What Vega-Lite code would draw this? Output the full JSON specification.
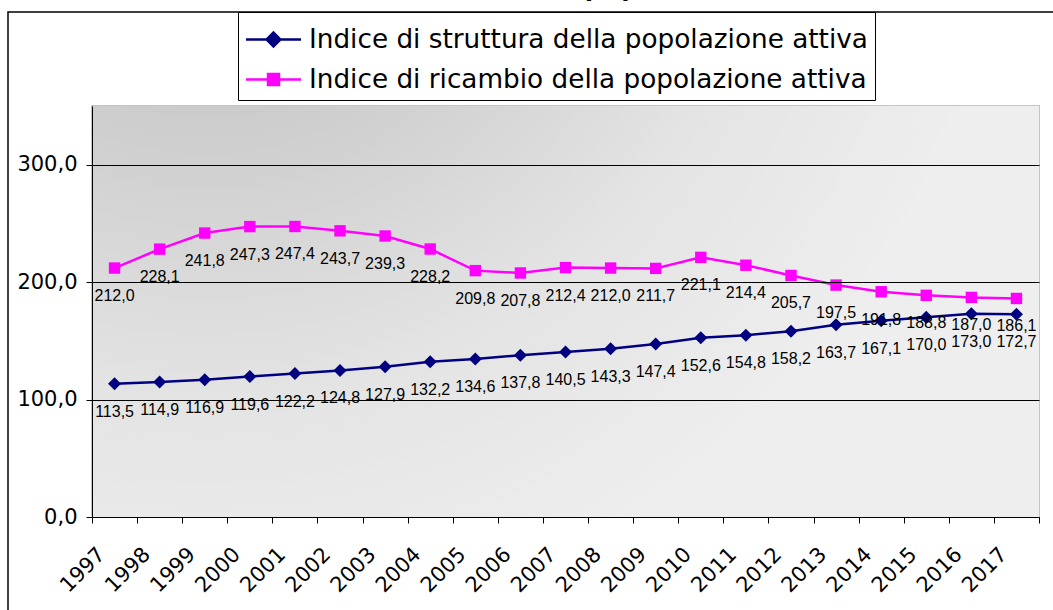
{
  "$schema": "https://vega.github.io/schema/vega-lite/v6.json",
  "width": 947,
  "height": 411,
  "autosize": {"type": "none"},
  "padding": {"left": 92, "top": 106, "right": 14, "bottom": 93},
  "background": "white",
  "title": {
    "text": "Indici di struttura della popolazione attiva",
    "font": "Liberation Sans",
    "fontSize": 30,
    "fontWeight": "bold",
    "color": "black",
    "anchor": "middle",
    "frame": "group",
    "dx": -15,
    "dy": 14,
    "offset": 0,
    "baseline": "alphabetic"
  },
  "config": {
    "locale": {"number": {"decimal": ",", "thousands": ".", "grouping": [3], "currency": ["€", ""]}},
    "view": {"stroke": "#c4c4c4", "strokeWidth": 2}
  },
  "datasets": {
    "serie": [
      {"anno": "1997", "serie": "Indice di struttura della popolazione attiva", "valore": 113.5},
      {"anno": "1998", "serie": "Indice di struttura della popolazione attiva", "valore": 114.9},
      {"anno": "1999", "serie": "Indice di struttura della popolazione attiva", "valore": 116.9},
      {"anno": "2000", "serie": "Indice di struttura della popolazione attiva", "valore": 119.6},
      {"anno": "2001", "serie": "Indice di struttura della popolazione attiva", "valore": 122.2},
      {"anno": "2002", "serie": "Indice di struttura della popolazione attiva", "valore": 124.8},
      {"anno": "2003", "serie": "Indice di struttura della popolazione attiva", "valore": 127.9},
      {"anno": "2004", "serie": "Indice di struttura della popolazione attiva", "valore": 132.2},
      {"anno": "2005", "serie": "Indice di struttura della popolazione attiva", "valore": 134.6},
      {"anno": "2006", "serie": "Indice di struttura della popolazione attiva", "valore": 137.8},
      {"anno": "2007", "serie": "Indice di struttura della popolazione attiva", "valore": 140.5},
      {"anno": "2008", "serie": "Indice di struttura della popolazione attiva", "valore": 143.3},
      {"anno": "2009", "serie": "Indice di struttura della popolazione attiva", "valore": 147.4},
      {"anno": "2010", "serie": "Indice di struttura della popolazione attiva", "valore": 152.6},
      {"anno": "2011", "serie": "Indice di struttura della popolazione attiva", "valore": 154.8},
      {"anno": "2012", "serie": "Indice di struttura della popolazione attiva", "valore": 158.2},
      {"anno": "2013", "serie": "Indice di struttura della popolazione attiva", "valore": 163.7},
      {"anno": "2014", "serie": "Indice di struttura della popolazione attiva", "valore": 167.1},
      {"anno": "2015", "serie": "Indice di struttura della popolazione attiva", "valore": 170.0},
      {"anno": "2016", "serie": "Indice di struttura della popolazione attiva", "valore": 173.0},
      {"anno": "2017", "serie": "Indice di struttura della popolazione attiva", "valore": 172.7},
      {"anno": "1997", "serie": "Indice di ricambio della popolazione attiva", "valore": 212.0},
      {"anno": "1998", "serie": "Indice di ricambio della popolazione attiva", "valore": 228.1},
      {"anno": "1999", "serie": "Indice di ricambio della popolazione attiva", "valore": 241.8},
      {"anno": "2000", "serie": "Indice di ricambio della popolazione attiva", "valore": 247.3},
      {"anno": "2001", "serie": "Indice di ricambio della popolazione attiva", "valore": 247.4},
      {"anno": "2002", "serie": "Indice di ricambio della popolazione attiva", "valore": 243.7},
      {"anno": "2003", "serie": "Indice di ricambio della popolazione attiva", "valore": 239.3},
      {"anno": "2004", "serie": "Indice di ricambio della popolazione attiva", "valore": 228.2},
      {"anno": "2005", "serie": "Indice di ricambio della popolazione attiva", "valore": 209.8},
      {"anno": "2006", "serie": "Indice di ricambio della popolazione attiva", "valore": 207.8},
      {"anno": "2007", "serie": "Indice di ricambio della popolazione attiva", "valore": 212.4},
      {"anno": "2008", "serie": "Indice di ricambio della popolazione attiva", "valore": 212.0},
      {"anno": "2009", "serie": "Indice di ricambio della popolazione attiva", "valore": 211.7},
      {"anno": "2010", "serie": "Indice di ricambio della popolazione attiva", "valore": 221.1},
      {"anno": "2011", "serie": "Indice di ricambio della popolazione attiva", "valore": 214.4},
      {"anno": "2012", "serie": "Indice di ricambio della popolazione attiva", "valore": 205.7},
      {"anno": "2013", "serie": "Indice di ricambio della popolazione attiva", "valore": 197.5},
      {"anno": "2014", "serie": "Indice di ricambio della popolazione attiva", "valore": 191.8},
      {"anno": "2015", "serie": "Indice di ricambio della popolazione attiva", "valore": 188.8},
      {"anno": "2016", "serie": "Indice di ricambio della popolazione attiva", "valore": 187.0},
      {"anno": "2017", "serie": "Indice di ricambio della popolazione attiva", "valore": 186.1}
    ]
  },
  "layer": [
    {
      "data": {"values": [{}]},
      "layer": [
        {
          "mark": {
            "type": "rect",
            "color": {
              "gradient": "radial",
              "x1": 0.12, "y1": 0, "r1": 0,
              "x2": 0.12, "y2": 0, "r2": 0.85,
              "stops": [
                {"offset": 0, "color": "#bebebe"},
                {"offset": 0.25, "color": "#c6c6c6"},
                {"offset": 0.7, "color": "#e4e4e4"},
                {"offset": 1, "color": "#eeeeee"}
              ]
            }
          },
          "encoding": {
            "x": {"datum": 0, "type": "quantitative", "scale": {"domain": [0, 1]}, "axis": null},
            "x2": {"datum": 1},
            "y": {
              "datum": 0,
              "type": "quantitative",
              "scale": {"domain": [0, 350], "nice": false, "zero": true},
              "axis": {
                "values": [0, 100, 200, 300],
                "format": ".1f",
                "title": null,
                "zindex": 1,
                "labelFont": "DejaVu Sans",
                "labelFontSize": 21,
                "labelColor": "black",
                "labelPadding": 9,
                "tickSize": 6,
                "tickColor": "black",
                "domainColor": "black",
                "domainWidth": 1,
                "grid": true,
                "gridColor": "black",
                "gridWidth": 1,
                "gridOpacity": 1
              }
            },
            "y2": {"datum": 350}
          }
        },
        {
          "mark": {"type": "rect", "fill": null, "stroke": "black", "strokeWidth": 1.5, "clip": false},
          "encoding": {
            "x": {"datum": -0.0887, "type": "quantitative"},
            "x2": {"datum": 1.06},
            "y": {"datum": 430, "type": "quantitative"},
            "y2": {"datum": -100}
          }
        }
      ]
    },
    {
      "data": {"name": "serie"},
      "encoding": {
        "x": {
          "field": "anno",
          "type": "ordinal",
          "scale": {"type": "band", "paddingInner": 0, "paddingOuter": 0},
          "axis": {
            "orient": "bottom",
            "title": null,
            "zindex": 1,
            "labelAngle": -45,
            "labelAlign": "right",
            "labelBaseline": "middle",
            "labelPadding": 28,
            "labelOffset": -13,
            "labelFont": "DejaVu Sans",
            "labelFontSize": 21,
            "labelColor": "black",
            "tickBand": "extent",
            "tickSize": 6,
            "tickColor": "black",
            "domainColor": "black",
            "grid": false
          }
        },
        "y": {"field": "valore", "type": "quantitative"}
      },
      "layer": [
        {
          "mark": {"type": "line", "strokeWidth": 2.5},
          "encoding": {
            "color": {
              "field": "serie",
              "type": "nominal",
              "scale": {
                "domain": ["Indice di struttura della popolazione attiva", "Indice di ricambio della popolazione attiva"],
                "range": ["#000080", "#ff00ff"]
              },
              "legend": {
                "title": null,
                "orient": "none",
                "legendX": 146,
                "legendY": -94,
                "padding": 7,
                "fillColor": "white",
                "strokeColor": "black",
                "labelFont": "DejaVu Sans",
                "labelFontSize": 26.3,
                "labelColor": "black",
                "labelLimit": 0,
                "labelOffset": 15,
                "symbolOffset": 8,
                "symbolSize": 1444,
                "symbolStrokeWidth": 2.5,
                "rowPadding": 6,
                "encode": {
                  "symbols": {
                    "update": {
                      "shape": {"signal": "datum.value === 'Indice di struttura della popolazione attiva' ? 'M-1.447,0H1.447M0,-0.362L0.362,0L0,0.362L-0.362,0Z' : 'M-1.447,0H1.447M-0.29,-0.29H0.29V0.29H-0.29Z'"},
                      "fill": {"signal": "datum.value === 'Indice di struttura della popolazione attiva' ? '#000080' : '#ff00ff'"},
                      "fillOpacity": {"value": 1}
                    }
                  }
                }
              }
            }
          }
        },
        {
          "transform": [{"filter": "datum.serie === 'Indice di struttura della popolazione attiva'"}],
          "mark": {"type": "point", "shape": "diamond", "filled": true, "opacity": 1, "size": 170, "color": "#000080"}
        },
        {
          "transform": [{"filter": "datum.serie === 'Indice di ricambio della popolazione attiva'"}],
          "mark": {"type": "point", "shape": "square", "filled": true, "opacity": 1, "size": 130, "color": "#ff00ff"}
        },
        {
          "mark": {"type": "text", "dy": 28, "font": "Liberation Sans", "fontSize": 16, "color": "black", "baseline": "middle", "align": "center"},
          "encoding": {
            "text": {"field": "valore", "type": "quantitative", "format": ".1f"}
          }
        }
      ]
    }
  ],
  "resolve": {"scale": {"x": "independent"}, "axis": {"x": "independent"}}
}
